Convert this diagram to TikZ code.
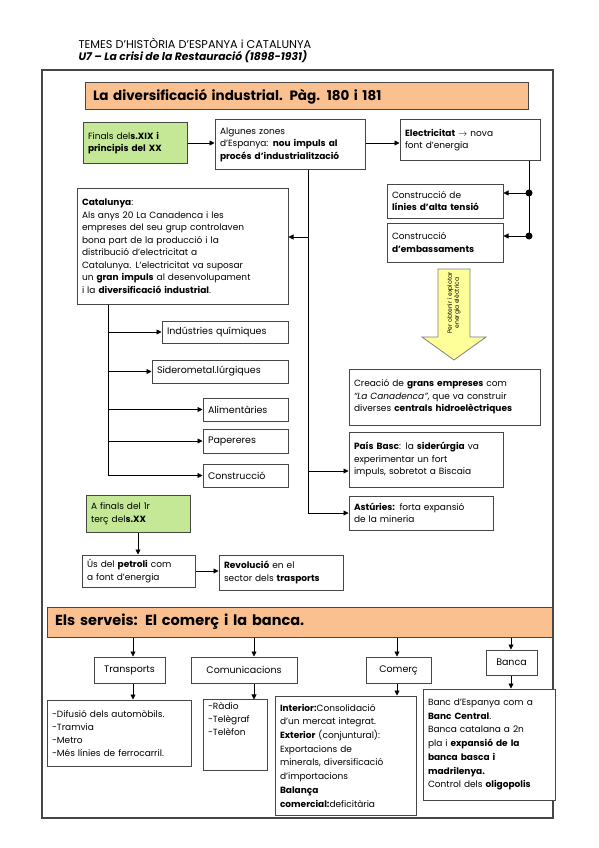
\documentclass[tikz,border=0pt]{standalone}
\usepackage{fontspec}
\setmainfont{Poppins}
\usetikzlibrary{arrows.meta}
\definecolor{peach}{RGB}{250,192,144}
\definecolor{lime}{RGB}{196,232,150}
\definecolor{lemon}{RGB}{255,255,153}
\definecolor{boxgray}{RGB}{70,70,70}

\begin{document}
\begin{tikzpicture}[x=1pt, y=-1pt,
    box/.style={draw=boxgray, line width=1pt, fill=white, align=left,
      inner xsep=5pt, inner ysep=2pt, font=\fontsize{9}{12.5}\selectfont},
    era/.style={box, fill=lime},
    tag/.style={box, align=center, font=\fontsize{9.5}{12}\selectfont},
    item/.style={box, font=\fontsize{9.5}{12}\selectfont},
    banner/.style={draw=boxgray, line width=1pt, fill=peach, align=left,
      inner xsep=8pt, font=\fontsize{13.5}{15}\selectfont\bfseries},
    link/.style={line width=0.8pt, -{Triangle[length=5pt,width=5pt]}},
    wire/.style={line width=0.8pt},
  ]
  \useasboundingbox (0,0) rectangle (599,848);

  % page head
  \node[anchor=west, font=\fontsize{11.3}{12}\selectfont] (subject) at (75,43)
    {TEMES D’HISTÒRIA D’ESPANYA i CATALUNYA};
  \node[anchor=west, font=\fontsize{10.8}{12}\selectfont\bfseries\itshape] (unit) at (75,57)
    {U7 – La crisi de la Restauració (1898-1931)};
  \draw[boxgray, line width=1.5pt] (42,70) rectangle (553,818);

  % industry
  \node[banner, text width=427pt, minimum height=27pt] (industry) at (306.5,96.5)
    {La diversificació industrial. Pàg. 180 i 181};
  \node[era, text width=94pt, minimum height=40pt] (finals) at (135,143)
    {Finals del\textbf{s.XIX i}\\\textbf{principis del XX}};
  \node[box, text width=140pt, minimum height=49pt] (zones) at (290,144.5)
    {Algunes zones\\d’Espanya: \textbf{nou impuls al}\\\textbf{procés d’industrialització}};
  \node[box, text width=130pt, minimum height=40pt] (power) at (470,140)
    {\textbf{Electricitat} $\rightarrow$ nova\\font d’energia};
  \node[box, text width=106pt, minimum height=34pt] (lines) at (445,201)
    {Construcció de\\\textbf{línies d’alta tensió}};
  \node[box, text width=106pt, minimum height=39pt] (dams) at (445,242.5)
    {Construcció\\\textbf{d’embassaments}};
  \node[box, text width=201pt, minimum height=116pt] (catalonia) at (182.5,246)
    {\textbf{Catalunya}:\\Als anys 20 La Canadenca i les\\empreses del seu grup controlaven\\bona part de la producció i la\\distribució d’electricitat a\\Catalunya. L’electricitat va suposar\\un \textbf{gran impuls} al desenvolupament\\i la \textbf{diversificació industrial}.};
  \node[item, text width=116pt, minimum height=22pt] (chem) at (225,332) {Indústries químiques};
  \node[item, text width=126pt, minimum height=23pt] (steel) at (220,371.5) {Siderometal.lúrgiques};
  \node[item, text width=75pt, minimum height=23pt] (food) at (245.5,409.5) {Alimentàries};
  \node[item, text width=75pt, minimum height=24pt] (paper) at (245.5,441) {Papereres};
  \node[item, text width=75pt, minimum height=23pt] (build) at (245.5,475.5) {Construcció};

  \filldraw[fill=lemon, draw=boxgray!70, line width=0.8pt]
    (438,269) -- (470,269) -- (470,337) -- (486,337) -- (454,360) -- (422,337) -- (438,337) -- cycle;
  \node[rotate=90, align=center, font=\fontsize{6}{7}\selectfont] (purpose) at (454,303)
    {Per obtenir i explotar\\energia elèctrica};

  \node[box, text width=181pt, minimum height=56pt] (firms) at (444.5,397)
    {Creació de \textbf{grans empreses} com\\\textit{“La Canadenca”}, que va construir\\diverses \textbf{centrals hidroelèctriques}};
  \node[box, text width=144pt, minimum height=55pt] (basque) at (426,459.5)
    {\textbf{País Basc}: la \textbf{siderúrgia} va\\experimentar un fort\\impuls, sobretot a Biscaia};
  \node[box, text width=134pt, minimum height=34pt] (asturias) at (421,513)
    {\textbf{Astúries:} forta expansió\\de la mineria};

  \node[era, text width=94pt, minimum height=37pt] (interwar) at (138,513.5)
    {A finals del 1r\\terç del\textbf{s.XX}};
  \node[box, text width=103pt, minimum height=32pt] (oil) at (138.5,571)
    {Ús del \textbf{petroli} com\\a font d’energia};
  \node[box, text width=114pt, minimum height=35pt] (transport) at (281,572.5)
    {\textbf{Revolució} en el\\sector dels \textbf{trasports}};

  % connectors, industry
  \draw[link] (finals.east) -- (finals.east -| zones.west);
  \draw[link] (finals.east -| zones.east) -- (finals.east -| power.west);
  \coordinate (grid) at (529,193);
  \coordinate (grid2) at (529,236);
  \draw[wire] (power.south -| grid) -- (grid2);
  \fill (grid) circle (3.5pt);
  \fill (grid2) circle (3.5pt);
  \draw[link] (grid) -- (grid -| lines.east);
  \draw[link] (grid2) -- (grid2 -| dams.east);

  \coordinate (split) at (308,237);
  \coordinate (fork) at (308,471);
  \draw[link] (zones.south -| split) |- (asturias.west);
  \draw[link] (split) -- (split -| catalonia.east);
  \draw[link] (fork) -- (fork -| basque.west);

  \coordinate (trunk) at (108,0);
  \foreach \n in {chem,steel,food,paper,build}
    \draw[link] (catalonia.south -| trunk) |- (\n.west);

  \draw[link] (interwar.south) -- (interwar.south |- oil.north);
  \draw[link] (oil.east) -- (oil.east -| transport.west);

  % services
  \node[banner, font=\fontsize{14.5}{16}\selectfont\bfseries, text width=489pt, minimum height=30pt]
    (services) at (299.5,622) {Els serveis: El comerç i la banca.};
  \node[tag, text width=61pt, minimum height=26pt] (transp) at (129.5,670) {Transports};
  \node[tag, text width=96pt, minimum height=26pt] (comm) at (244,670) {Comunicacions};
  \node[tag, text width=55pt, minimum height=26pt] (trade) at (398.5,670) {Comerç};
  \node[tag, text width=41pt, minimum height=25pt] (bank) at (511.5,662.5) {Banca};

  \node[box, font=\fontsize{9}{13}\selectfont, text width=134pt, minimum height=66pt] (transp-list) at (119,733)
    {-Difusió dels automòbils.\\-Tramvia\\-Metro\\-Més línies de ferrocarril.};
  \node[box, font=\fontsize{9}{13}\selectfont, text width=54pt, minimum height=70pt] (comm-list) at (235,735)
    {-Ràdio\\-Telègraf\\-Telèfon\\[20pt]\mbox{}};
  \node[box, font=\fontsize{9}{13.7}\selectfont, text width=131pt, minimum height=119pt] (trade-list) at (345.5,755.5)
    {\textbf{Interior:}Consolidació\\d’un mercat integrat.\\\textbf{Exterior} (conjuntural):\\Exportacions de\\minerals, diversificació\\d’importacions\\\textbf{Balança}\\\textbf{comercial:}deficitària};
  \node[box, font=\fontsize{9}{13.7}\selectfont, text width=122pt, minimum height=111pt] (bank-list) at (489,744.5)
    {Banc d’Espanya com a\\\textbf{Banc Central}.\\Banca catalana a 2n\\pla i \textbf{expansió de la}\\\textbf{banca basca i}\\\textbf{madrilenya.}\\Control dels \textbf{oligopolis}};

  \foreach \n/\x in {transp/133, comm/254, trade/397, bank/511} {
    \draw[link] (services.south -| \x,0) -- (\n.north -| \x,0);
    \draw[link] (\n.south -| \x,0) -- (\n-list.north -| \x,0);
  }
\end{tikzpicture}
\end{document}
